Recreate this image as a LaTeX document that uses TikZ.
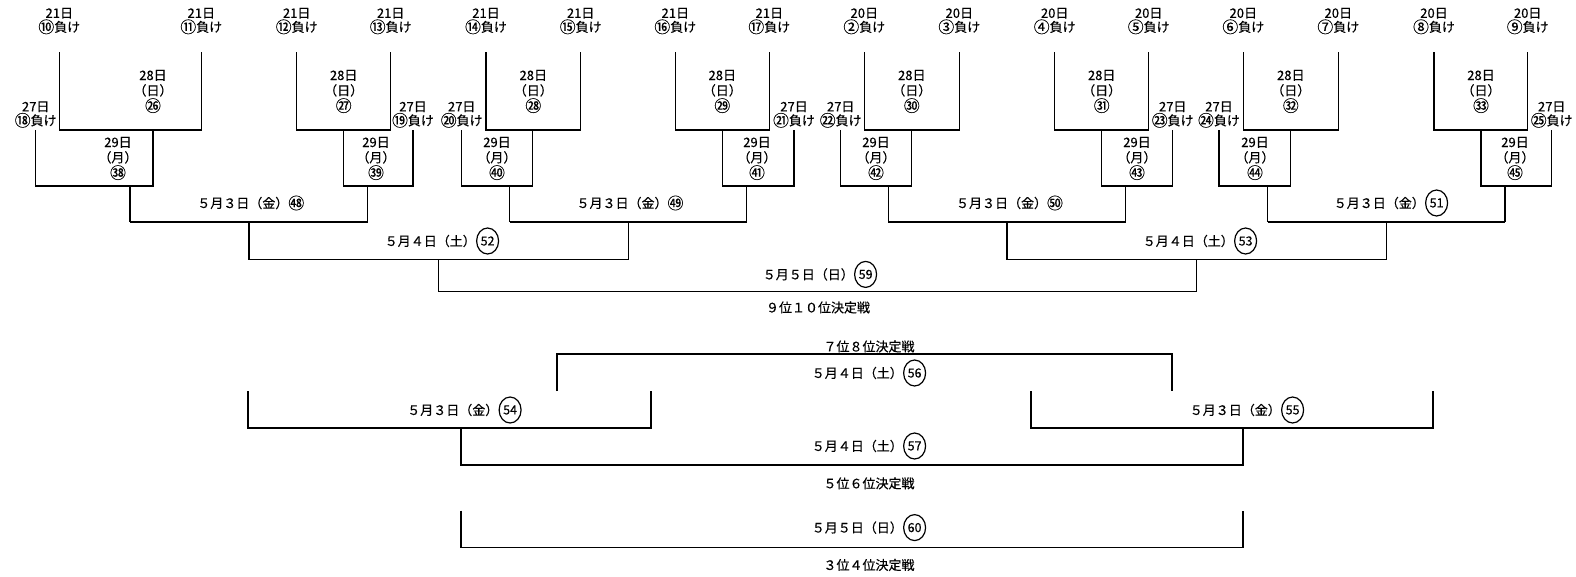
\documentclass[tikz,border=0pt]{standalone}
\usepackage{fontspec}
\setmainfont{Noto Sans CJK JP}[FakeBold=0.35]
\usetikzlibrary{shapes.geometric}
\newcommand\cnum[1]{\raisebox{-0.08em}{\scalebox{1.22}{#1}}}
\tikzset{
  br/.style={line width=1.3pt},
  lbl/.style={align=center, inner sep=0pt, font=\fontsize{13}{14}\selectfont},
  blk/.style={align=center, inner sep=0pt, font=\fontsize{13}{15.3}\selectfont},
  ttl/.style={inner sep=0pt, font=\fontsize{13}{14}\selectfont},
  bigc/.style={draw, ellipse, line width=1.2pt, minimum width=22pt, minimum height=26pt, inner sep=0pt, font=\fontsize{12.5}{12.5}\selectfont}
}
\begin{document}
\begin{tikzpicture}[x=1pt, y=-1pt]
\path[fill=white, use as bounding box] (0,0) rectangle (1576,576);
% top labels
\foreach \x/\d/\n [count=\i] in {59.3/21/⑩, 201.3/21/⑪, 296.7/21/⑫, 390.7/21/⑬, 486/21/⑭, 580.7/21/⑮, 675.3/21/⑯, 769.3/21/⑰, 864.3/20/②, 959.3/20/③, 1054.7/20/④, 1148.7/20/⑤, 1243.3/20/⑥, 1338.3/20/⑦, 1434/20/⑧, 1527.7/20/⑨}
  \node[lbl] (top\i) at (\x,21) {{\d}日\\\cnum{\n}負け};
% first round brackets
\foreach \a/\b [count=\i] in {59.3/201.3, 296.7/390.7, 486/580.7, 675.3/769.3, 864.3/959.3, 1054.7/1148.7, 1243.3/1338.3, 1434/1527.7}
  \draw[br] (\a,52) -- (\a,130) -- (\b,130) -- (\b,52);
% 28 day labels
\foreach \x/\n [count=\i] in {153/㉖, 343.7/㉗, 533.3/㉘, 722.3/㉙, 911.8/㉚, 1101.7/㉛, 1290.8/㉜, 1481/㉝}
  \node[blk] (r28\i) at (\x,91.5) {28日\\（日）\\\cnum{\n}};
% 27 day labels
\foreach \x/\n [count=\i] in {35.7/⑱, 413/⑲, 461.7/⑳, 794/㉑, 840.7/㉒, 1172.7/㉓, 1219/㉔, 1551.7/㉕}
  \node[lbl] (s27\i) at (\x,114.5) {27日\\\cnum{\n}負け};
% second round brackets
\foreach \a/\b/\d in {35.7/153/130, 343.7/413/367.7, 461.7/532.7/509.7, 722.3/794/746.7, 840.7/911.8/888.3, 1101.7/1172.7/1125.7, 1219/1290.8/1267.7, 1481/1551.7/1505}
  {\draw[br] (\a,130) -- (\a,186) -- (\b,186) -- (\b,130);
   \draw[br] (\d,186) -- (\d,222);}
% 29 day labels
\foreach \x/\n [count=\i] in {118/㊳, 376/㊴, 497/㊵, 757/㊶, 876/㊷, 1137/㊸, 1255/㊹, 1515/㊺}
  \node[blk] (r29\i) at (\x,158.5) {29日\\（月）\\\cnum{\n}};
% third round
\foreach \a/\b in {130/367.7, 509.7/746.7, 888.3/1125.7, 1267.7/1505}
  \draw[br] (\a,222) -- (\b,222);
\foreach \a/\b in {248.9/628.2, 1007/1386.4}
  {\draw[br] (\a,222) -- (\a,259.3) -- (\b,259.3) -- (\b,222);}
\node[ttl] (t48) at (250.8,203) {５月３日（金）\cnum{㊽}};
\node[ttl] (t49) at (630,203) {５月３日（金）\cnum{㊾}};
\node[ttl] (t50) at (1009.5,203) {５月３日（金）\cnum{㊿}};
\node[ttl, anchor=east] (t51) at (1425,203) {５月３日（金）};
\node[bigc, anchor=west] (c51) at (t51.east) {51};
% fourth round
\node[ttl, anchor=east] (t52) at (476,241) {５月４日（土）};
\node[bigc, anchor=west] (c52) at (t52.east) {52};
\node[ttl, anchor=east] (t53) at (1234,241) {５月４日（土）};
\node[bigc, anchor=west] (c53) at (t53.east) {53};
\draw[br] (438.5,259.3) -- (438.5,291.5) -- (1196.7,291.5) -- (1196.7,259.3);
\node[ttl, anchor=east] (t59) at (854,274.4) {５月５日（日）};
\node[bigc, anchor=west] (c59) at (t59.east) {59};
\node[ttl] (h910) at (818,307.5) {９位１０位決定戦};
% lower section
\node[ttl] (h78) at (869,346.5) {７位８位決定戦};
\draw[br] (557,391) -- (557,354) -- (1172,354) -- (1172,391);
\node[ttl, anchor=east] (t56) at (903,373) {５月４日（土）};
\node[bigc, anchor=west] (c56) at (t56.east) {56};
\draw[br] (248,391) -- (248,428) -- (651,428) -- (651,391);
\node[ttl, anchor=east] (t54) at (498.5,410) {５月３日（金）};
\node[bigc, anchor=west] (c54) at (t54.east) {54};
\draw[br] (1031,391) -- (1031,428) -- (1433,428) -- (1433,391);
\node[ttl, anchor=east] (t55) at (1281,410) {５月３日（金）};
\node[bigc, anchor=west] (c55) at (t55.east) {55};
\draw[br] (461,428) -- (461,465) -- (1243,465) -- (1243,428);
\node[ttl, anchor=east] (t57) at (903,446) {５月４日（土）};
\node[bigc, anchor=west] (c57) at (t57.east) {57};
\node[ttl] (h56) at (869,483.4) {５位６位決定戦};
\draw[br] (461,510.5) -- (461,547.7) -- (1243,547.7) -- (1243,510.5);
\node[ttl, anchor=east] (t60) at (903,527.6) {５月５日（日）};
\node[bigc, anchor=west] (c60) at (t60.east) {60};
\node[ttl] (h34) at (869,565) {３位４位決定戦};
\end{tikzpicture}
\end{document}
